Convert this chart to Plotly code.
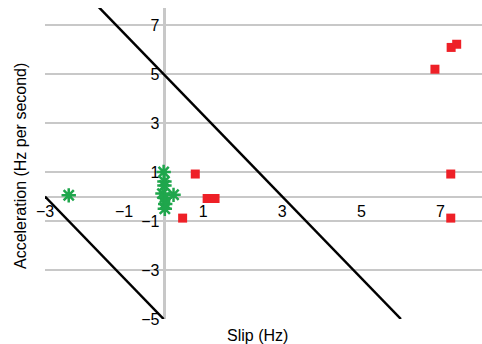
import plotly.graph_objects as go

# Data
green_x = [-2.4, 0.0, 0.02, 0.02, -0.03, 0.25, 0.03, 0.04, 0.03]
green_y = [0.05, 1.0, 0.62, 0.45, 0.12, 0.07, -0.05, -0.3, -0.5]

red_x = [0.8, 0.48, 1.1, 1.3, 6.86, 7.27, 7.41, 7.26, 7.26]
red_y = [0.92, -0.88, -0.08, -0.08, 5.2, 6.09, 6.22, 0.92, -0.88]

line1_x = [-3, 0]
line1_y = [0, -5]
line2_x = [-1.65, 6.0]
line2_y = [7.75, -5]

x_ticks = [-3, -1, 1, 3, 5, 7]
y_ticks = [-5, -3, -1, 1, 3, 5, 7]
x_range = [-3, 8.05]
y_range = [-5, 7.7]

FONT = "Liberation Sans, Arial, sans-serif"
GRID = "#c8c8c8"
GREEN = "#1fa64c"
RED = "#ee2027"

fig = go.Figure()
fig.add_trace(go.Scatter(x=line1_x, y=line1_y, mode="lines",
                         line=dict(color="black", width=2.5), showlegend=False))
fig.add_trace(go.Scatter(x=line2_x, y=line2_y, mode="lines",
                         line=dict(color="black", width=2.5), showlegend=False))
fig.add_trace(go.Scatter(x=green_x, y=green_y, mode="markers",
                         marker=dict(symbol="asterisk-open", size=12, color=GREEN,
                                     line=dict(color=GREEN, width=2.5)),
                         showlegend=False))
fig.add_trace(go.Scatter(x=red_x, y=red_y, mode="markers",
                         marker=dict(symbol="square", size=9, color=RED,
                                     line=dict(width=0)),
                         showlegend=False))

x_pos = (0 - y_range[0]) / (y_range[1] - y_range[0])
y_pos = (0 - x_range[0]) / (x_range[1] - x_range[0])

fig.update_layout(
    width=482, height=344,
    margin=dict(l=45, r=0, t=8, b=25),
    paper_bgcolor="white", plot_bgcolor="white",
    font=dict(family=FONT, size=16, color="black"),
    xaxis=dict(range=x_range, tickvals=x_ticks, showgrid=False, zeroline=False,
               showline=True, linecolor=GRID, linewidth=2, layer="below traces",
               anchor="free", position=x_pos, ticks="",
               tickfont=dict(size=16, family=FONT)),
    yaxis=dict(range=y_range, tickvals=y_ticks, showgrid=True, gridcolor=GRID,
               gridwidth=2, zeroline=False, showline=True, linecolor=GRID,
               linewidth=3, layer="below traces", anchor="free", position=y_pos,
               ticks="", tickfont=dict(size=16, family=FONT)),
    annotations=[
        dict(text="Slip (Hz)", x=257, y=335, xref="paper", yref="paper",
             xanchor="center", yanchor="middle",
             showarrow=False, font=dict(size=16, family=FONT)),
        dict(text="Acceleration (Hz per second)", textangle=-90, x=20, y=166,
             xref="paper", yref="paper", xanchor="center", yanchor="middle",
             showarrow=False, font=dict(size=16, family=FONT)),
    ],
)

# convert pixel annotation positions to paper fractions
pw = 482 - 45 - 0
ph = 344 - 8 - 25
for a in fig.layout.annotations:
    a.x = (a.x - 45) / pw
    a.y = (344 - 25 - a.y) / ph

fig.write_html("out.html", config={"displayModeBar": False},
               post_script="document.body.style.margin='0';document.body.style.padding='0';")
